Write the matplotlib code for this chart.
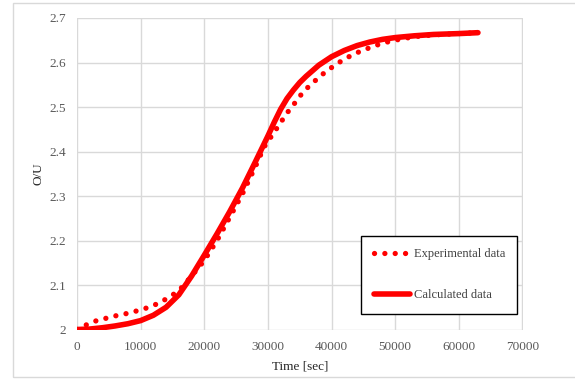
import matplotlib
matplotlib.use("Agg")
import matplotlib.pyplot as plt
from matplotlib.patches import Rectangle

# values
exp_time = [0, 1400, 2900, 4500, 6150, 7840, 9460, 11090, 12660, 14200,
            16000, 18000, 20000, 22000, 24000, 26000, 28000, 29400, 30300,
            31250, 32230, 33240, 34340, 35330, 36470, 37730, 39040, 40340,
            41710, 43120, 44630, 46150, 47700, 49300, 51000, 53000, 56000,
            60000, 63000]
exp_ou = [2.000, 2.010, 2.019, 2.025, 2.031, 2.036, 2.042, 2.049, 2.058, 2.070,
          2.087, 2.120, 2.155, 2.200, 2.252, 2.305, 2.365, 2.410, 2.429,
          2.449, 2.470, 2.491, 2.511, 2.530, 2.547, 2.563, 2.579, 2.592,
          2.605, 2.616, 2.626, 2.634, 2.642, 2.648, 2.653, 2.658, 2.662,
          2.665, 2.667]

calc_time = [0, 2000, 4000, 6000, 8000, 10000, 12000, 14000, 16000, 18000,
             20000, 22000, 24000, 26000, 28000, 30000, 31000, 32000, 33000,
             34000, 35000, 36000, 38000, 40000, 42000, 44000, 46000, 48000,
             50000, 53000, 56000, 60000, 63000]
calc_ou = [2.000, 2.001, 2.004, 2.008, 2.013, 2.020, 2.032, 2.050, 2.078, 2.120,
           2.167, 2.215, 2.265, 2.318, 2.376, 2.435, 2.466, 2.495, 2.519,
           2.538, 2.555, 2.569, 2.594, 2.613, 2.627, 2.638, 2.646, 2.652,
           2.656, 2.660, 2.663, 2.665, 2.667]

x_ticks = [0, 10000, 20000, 30000, 40000, 50000, 60000, 70000]
y_ticks = [2, 2.1, 2.2, 2.3, 2.4, 2.5, 2.6, 2.7]
y_tick_labels = ['2', '2.1', '2.2', '2.3', '2.4', '2.5', '2.6', '2.7']


def plot():
    plt.rcParams['font.family'] = ['Liberation Serif', 'DejaVu Serif']
    fig = plt.figure(figsize=(5.75, 3.79), dpi=100)
    ax = fig.add_axes([77 / 575, 1 - 329.5 / 379, 445.5 / 575, 311.5 / 379])

    # outer chart-area frame
    fig.patches.append(Rectangle((13.5 / 575, 2 / 379), 1.1, 374 / 379,
                                 transform=fig.transFigure, fill=False,
                                 edgecolor='#d9d9d9', linewidth=1,
                                 clip_on=False))

    ax.plot(calc_time, calc_ou, color='#ff0000', linewidth=4.0,
            solid_capstyle='round', solid_joinstyle='round',
            label='Calculated data', zorder=3)
    ax.plot(exp_time, exp_ou, color='#ff0000', linewidth=3.8,
            dashes=[0.01, 1.95], dash_capstyle='round',
            label='Experimental data', zorder=4)

    ax.set_xlim(0, 70000)
    ax.set_ylim(2, 2.7)
    ax.set_xticks(x_ticks)
    ax.set_yticks(y_ticks)
    ax.set_yticklabels(y_tick_labels)
    ax.grid(True, color='#d9d9d9', linewidth=1)
    ax.set_axisbelow(True)
    for s in ax.spines.values():
        s.set_visible(False)
    ax.tick_params(length=0, labelsize=9.5, colors='#595959', pad=8)

    ax.set_xlabel('Time [sec]', fontsize=9.5, color='#262626', labelpad=6)
    ax.set_ylabel('O/U', fontsize=9.5, color='#262626', labelpad=3)

    handles, labels = ax.get_legend_handles_labels()
    leg = ax.legend(handles[::-1], labels[::-1], loc='lower left',
                    bbox_to_anchor=(361 / 575, 1 - 313.5 / 379),
                    bbox_transform=fig.transFigure, borderaxespad=0,
                    fontsize=9, handlelength=2.9, handletextpad=0.3,
                    labelspacing=2.3, borderpad=1.0, fancybox=False,
                    framealpha=1, edgecolor='#000000')
    leg.get_frame().set_linewidth(1)
    for t in leg.get_texts():
        t.set_color('#404040')

    fig.savefig('out.png', dpi=100)


if __name__ == '__main__':
    plot()
